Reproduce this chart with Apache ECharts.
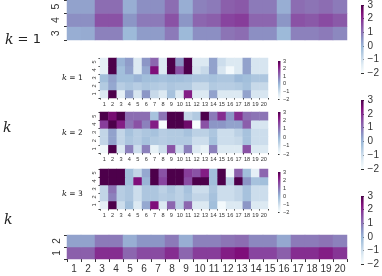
<!DOCTYPE html>
<html><head><meta charset="utf-8">
<script src="https://cdn.jsdelivr.net/npm/echarts@6/dist/echarts.min.js"></script>
<style>html,body{margin:0;padding:0;background:#fff}#c{width:382px;height:276px}</style>
</head><body><div id="c"></div>
<script>
const cols = ['1','2','3','4','5','6','7','8','9','10','11','12','13','14','15','16','17','18','19','20'];
const cbTicks = [-2, -1, 0, 1, 2, 3];
const bupu = ['#f7fcfd','#e0ecf4','#bfd3e6','#9ebcda','#8c96c6','#8c6bb1','#88419d','#810f7c','#4d004b'];

// big top heatmap, rows 3,4,5
const topRowLabels = ['3','4','5'];
const topRow3 = [0.1,0.15,0.8,0.8,-0.1,0.4,0.4,0.9,-0.1,0.6,0.6,1.0,1.1,0.6,0.6,-0.1,0.8,0.8,0.9,0.7];
const topRow4 = [0.6,0.6,1.5,1.5,0.5,0.9,0.9,1.5,0.5,1.2,1.3,1.7,1.8,1.2,1.2,0.5,1.5,1.4,1.6,1.4];
const topRow5 = [0.3,0.3,1.1,1.1,0.1,0.6,0.6,1.1,0.1,0.8,0.9,1.3,1.4,0.9,0.9,0.1,1.1,1.0,1.1,0.9];

// big bottom heatmap, rows 1,2
const botRowLabels = ['1','2'];
const botRow1 = [1.3,1.3,2.0,2.0,1.2,1.6,1.6,2.0,1.2,1.8,1.8,2.2,2.4,1.7,1.7,1.3,2.0,2.0,2.2,1.9];
const botRow2 = [0.3,0.3,0.9,0.9,0.1,0.5,0.5,0.9,0.1,0.8,0.8,1.0,1.1,0.7,0.7,0.2,0.9,0.9,1.0,0.8];

// insets, rows 1..5
const insetRowLabels = ['1','2','3','4','5'];
const k1r1 = [-1.3,3,-1.5,0.3,-1.2,0.5,-0.9,-1.3,-0.3,-1.3,2.2,-1.3,-1.3,0.3,-1.3,-1.3,-1.3,0.3,-1.2,-1.2];
const k1r2 = [-0.5,0.2,-0.6,-0.4,-0.6,-0.4,-0.5,-0.6,-0.4,-0.5,-0.5,-0.9,-0.9,-0.5,-0.6,-0.6,-0.5,-0.3,-0.9,-0.9];
const k1r3 = [-0.2,0.3,-0.2,-0.2,0,-0.2,-0.2,-0.3,-0.2,-0.2,-0.3,-0.4,-0.4,-0.3,-0.4,-0.4,-0.1,-0.2,-0.4,-0.4];
const k1r4 = [-1.5,3,-0.2,0.3,-1.3,0.2,2.4,-1.3,3,1.5,3,-1.2,-0.9,0.3,-1.2,-1.9,-1.3,0.3,-1.2,-1.2];
const k1r5 = [-1.5,3,0,0.4,-1.3,0.5,1.2,-1.3,3,0.5,3,-1.3,-1.3,0.3,-1.0,-1.3,-1.3,0.3,-1.2,-1.2];

const k2r1 = [-1.8,3,-1.3,0.8,-1.0,0.8,-1.6,-1.0,1.5,-1.0,0.8,-1.3,-1.6,0.8,-1.3,-1.3,-1.3,1.5,-1.3,-1.3];
const k2r2 = [-0.8,0.3,-0.8,-0.4,-0.6,-0.3,-0.5,-0.6,-0.5,-0.5,-0.5,-1.0,-1.0,-0.3,-1.0,-1.0,-0.9,-0.3,-1.0,-1.0];
const k2r3 = [-0.8,0.3,-0.8,-0.3,-0.6,-0.4,-0.3,-0.6,-0.5,-0.5,-0.3,-0.7,-0.7,-0.4,-1.0,-1.0,-0.7,-0.3,-1.0,-1.0];
const k2r4 = [1.8,3,2.2,1.0,1.5,0.8,2.2,-2,3,3,2.6,-2,1.5,0.5,0.5,0.3,0.3,1.3,-1.2,-1.2];
const k2r5 = [3,2.5,3,1.1,1.1,1.1,-0.3,1.0,3,3,-0.8,-0.5,3,0.9,2.0,0.5,2.0,1.1,1.0,1.0];

const k3r1 = [-1.5,3,-1.0,-0.2,-1.3,0.2,2.4,-1.3,1.2,-0.7,1.2,-1.3,-1.3,-0.2,-1.9,-1.3,-1.3,0.5,-1.3,-1.3];
const k3r2 = [-0.8,0.8,-0.6,-0.4,-1.0,-0.4,-0.4,-0.6,-0.5,-0.7,-0.4,-0.8,-0.8,-0.3,-1.0,-1.0,-0.8,-0.3,-1.0,-1.0];
const k3r3 = [-0.8,1.0,-0.6,-0.4,-1.0,-0.4,-0.4,-0.7,-0.4,-0.7,-0.3,-1.0,-1.0,-0.4,-1.0,-1.0,-0.8,-0.3,-1.0,-1.0];
const k3r4 = [3,3,3,-0.2,2.4,0.0,3,1.7,3,3,1.6,3,3,-0.2,3,-0.6,3,0.5,-0.3,-0.2];
const k3r5 = [3,3,3,-0.2,-0.8,0.2,3,1.5,3,3,1.8,1.5,2.2,-0.2,3,-1.8,1.3,-0.2,-1.5,1.2];

function cells(rows) {
  const out = [];
  rows.forEach((r, yi) => r.forEach((v, xi) => out.push([xi, yi, v])));
  return out;
}
const FONT = '"Liberation Sans", sans-serif';
const TXT = '#333';
const fmtMinus = v => String(v).replace('-', '\u2212');

const grids = [
  {left:67, top:0, width:280, height:40},
  {left:100, top:58, width:168, height:40},
  {left:100, top:112, width:168, height:41},
  {left:100, top:169, width:168, height:40},
  {left:67, top:235, width:280, height:24},
  {left:361, top:5, width:3, height:68},
  {left:361, top:100, width:3, height:69},
  {left:361, top:196, width:3, height:68},
  {left:278, top:61, width:2.5, height:38},
  {left:278, top:112, width:2.5, height:42},
  {left:278, top:172, width:2.5, height:40}
];

const xAxes = [], yAxes = [], series = [], visualMaps = [];
function addHeat(gi, rowLabels, rows, fs, showX, tickLen, margin) {
  xAxes.push({type:'category', gridIndex:gi, data:cols, position:'bottom',
    axisLine:{show:false}, axisTick:{show:showX, length:tickLen, lineStyle:{color:TXT}},
    axisLabel:{show:showX, fontSize:fs, color:TXT, fontFamily:FONT, margin:margin, interval:0},
    splitLine:{show:false}});
  yAxes.push({type:'category', gridIndex:gi, data:rowLabels,
    axisLine:{show:false}, axisTick:{show:true, length:tickLen, lineStyle:{color:TXT}},
    axisLabel:{fontSize:fs, color:TXT, fontFamily:FONT, rotate:90, margin:margin},
    splitLine:{show:false}});
  const si = series.length;
  series.push({type:'heatmap', xAxisIndex:xAxes.length-1, yAxisIndex:yAxes.length-1,
    data:cells(rows), itemStyle:{borderWidth:0}, emphasis:{disabled:true}, progressive:0});
  visualMaps.push({show:false, seriesIndex:si, min:-2, max:3, dimension:2, calculable:false,
    inRange:{color:bupu}});
}
addHeat(0, topRowLabels, [topRow3, topRow4, topRow5], 10.5, false, 3, 5);
addHeat(1, insetRowLabels, [k1r1,k1r2,k1r3,k1r4,k1r5], 5.6, true, 1.5, 3);
addHeat(2, insetRowLabels, [k2r1,k2r2,k2r3,k2r4,k2r5], 5.6, true, 1.5, 3);
addHeat(3, insetRowLabels, [k3r1,k3r2,k3r3,k3r4,k3r5], 5.6, true, 1.5, 3);
addHeat(4, botRowLabels, [botRow1, botRow2], 10, true, 3, 5);

function addBar(gi, fs, tickLen) {
  xAxes.push({type:'value', gridIndex:gi, min:0, max:1, show:false});
  yAxes.push({type:'value', gridIndex:gi, min:cbTicks[0], max:cbTicks[cbTicks.length-1], interval:1, position:'right',
    axisLine:{show:false}, axisTick:{show:true, length:tickLen, lineStyle:{color:TXT}},
    axisLabel:{fontSize:fs, color:TXT, fontFamily:FONT, margin:tickLen+1, formatter:fmtMinus},
    splitLine:{show:false}});
  series.push({type:'custom', xAxisIndex:xAxes.length-1, yAxisIndex:yAxes.length-1,
    data:[[0, cbTicks[cbTicks.length-1]]], silent:true,
    renderItem:function(params, api){
      const a = api.coord([0, cbTicks[cbTicks.length-1]]);
      const b = api.coord([0, cbTicks[0]]);
      const cs = params.coordSys;
      return {type:'rect', shape:{x:cs.x, y:a[1], width:cs.width, height:b[1]-a[1]},
        style:{fill:new echarts.graphic.LinearGradient(0,0,0,1,
          bupu.slice().reverse().map((c,i)=>({offset:i/(bupu.length-1), color:c})))}};
    }});
}
addBar(5, 10, 3);
addBar(6, 10, 3);
addBar(7, 10, 3);
addBar(8, 5.6, 1.5);
addBar(9, 5.6, 1.5);
addBar(10, 5.6, 1.5);

const kRich = {k:{fontStyle:'italic', fontFamily:'DejaVu Serif', fontSize:14, fill:'#222'}};
const kSmall = {k:{fontStyle:'italic', fontFamily:'DejaVu Serif', fontSize:8}};
const chart = echarts.init(document.getElementById('c'), null, {renderer:'canvas'});
chart.setOption({
  animation:false,
  backgroundColor:'#fff',
  grid:grids,
  xAxis:xAxes, yAxis:yAxes, series:series, visualMap:visualMaps,
  graphic:[
    {type:'text', left:5, top:33, style:{text:'{k|k} = 1', rich:kRich, font:'13px DejaVu Sans', fill:'#222'}},
    {type:'text', left:3, top:121, style:{text:'{k|k}', rich:kRich, font:'13px DejaVu Sans', fill:'#222'}},
    {type:'text', left:4, top:213, style:{text:'{k|k}', rich:kRich, font:'13px DejaVu Sans', fill:'#222'}},
    {type:'text', left:62, top:74, style:{text:'{k|k} = 1', rich:kSmall, font:'7.5px DejaVu Sans', fill:'#222'}},
    {type:'text', left:62, top:129, style:{text:'{k|k} = 2', rich:kSmall, font:'7.5px DejaVu Sans', fill:'#222'}},
    {type:'text', left:62, top:190, style:{text:'{k|k} = 3', rich:kSmall, font:'7.5px DejaVu Sans', fill:'#222'}}
  ]
});
</script></body></html>
